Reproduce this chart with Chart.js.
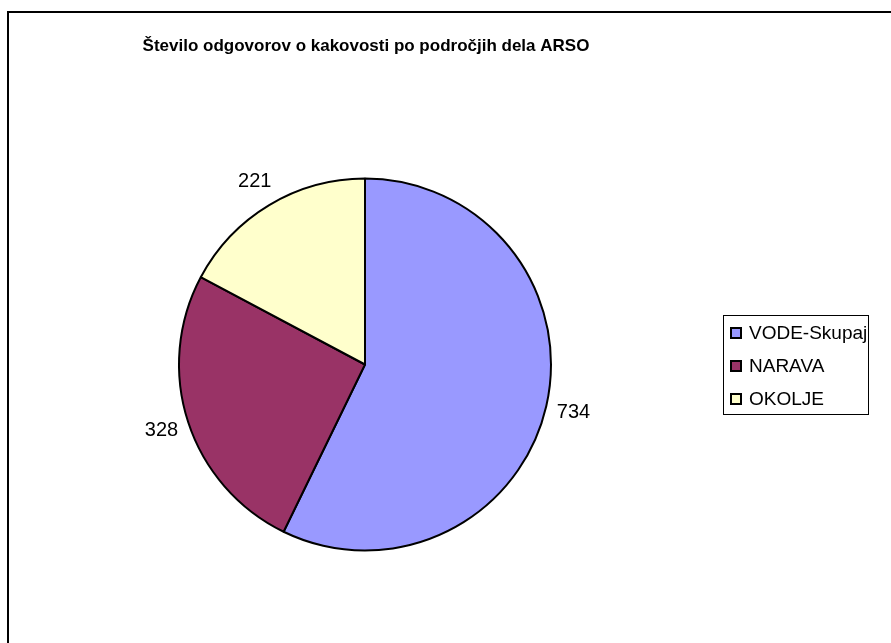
<!DOCTYPE html>
<html>
<head>
<meta charset="utf-8">
<style>
  html, body { margin: 0; padding: 0; background: #fff; }
  #wrap { position: relative; width: 891px; height: 643px; }
  canvas { display: block; }
</style>
<script src="https://cdn.jsdelivr.net/npm/chart.js@4/dist/chart.umd.min.js"></script>
</head>
<body>
<div id="wrap"><canvas id="c" width="891" height="643"></canvas></div>
<script>
// Število odgovorov po področjih
const titleText = 'Število odgovorov o kakovosti po področjih dela ARSO';
const categories = ['VODE-Skupaj', 'NARAVA', 'OKOLJE'];
const counts = [734, 328, 221];
const sliceColors = ['#9999FF', '#993366', '#FFFFCC'];

const FONT = '"Liberation Sans", Arial, sans-serif';

// Outer frame, title, value labels and boxed legend
const decorations = {
  id: 'decorations',
  beforeDraw(chart) {
    const ctx = chart.ctx;
    ctx.save();
    ctx.fillStyle = '#fff';
    ctx.fillRect(0, 0, chart.width, chart.height);
    ctx.strokeStyle = '#000';
    ctx.lineWidth = 2;
    ctx.strokeRect(8, 12, chart.width + 20, chart.height + 20);
    ctx.restore();
  },
  afterDatasetsDraw(chart) {
    const ctx = chart.ctx;
    ctx.save();
    // title
    ctx.fillStyle = '#000';
    ctx.font = 'bold 17px ' + FONT;
    ctx.textAlign = 'center';
    ctx.textBaseline = 'middle';
    ctx.fillText(titleText, 366, 46);

    // value labels outside each slice
    const meta = chart.getDatasetMeta(0);
    ctx.font = '20px ' + FONT;
    meta.data.forEach((arc, i) => {
      const p = arc.getProps(['x', 'y', 'startAngle', 'endAngle', 'outerRadius'], true);
      const mid = (p.startAngle + p.endAngle) / 2;
      const d = p.outerRadius + 28;
      ctx.fillText(String(counts[i]), p.x + Math.cos(mid) * d, p.y + Math.sin(mid) * d);
    });

    // legend
    const lx = 723.5, ly = 315.5, lw = 145, lh = 99;
    ctx.strokeStyle = '#000';
    ctx.lineWidth = 1;
    ctx.strokeRect(lx, ly, lw, lh);
    ctx.font = '19px ' + FONT;
    ctx.textAlign = 'left';
    categories.forEach((name, i) => {
      const cy = 333 + i * 33;
      ctx.fillStyle = sliceColors[i];
      ctx.fillRect(731, cy - 5, 10, 10);
      ctx.strokeStyle = '#000';
      ctx.lineWidth = 2;
      ctx.strokeRect(731, cy - 5, 10, 10);
      ctx.fillStyle = '#000';
      ctx.fillText(name, 749, cy + 1);
    });
    ctx.restore();
  }
};

new Chart(document.getElementById('c'), {
  type: 'pie',
  data: {
    labels: categories,
    datasets: [{
      data: counts,
      backgroundColor: sliceColors,
      borderColor: '#000',
      borderWidth: 2,
      hoverOffset: 0
    }]
  },
  options: {
    responsive: false,
    animation: false,
    events: [],
    layout: { padding: { left: 178, right: 339, top: 177, bottom: 91 } },
    plugins: {
      legend: { display: false },
      title: { display: false },
      tooltip: { enabled: false }
    }
  },
  plugins: [decorations]
});
</script>
</body>
</html>
